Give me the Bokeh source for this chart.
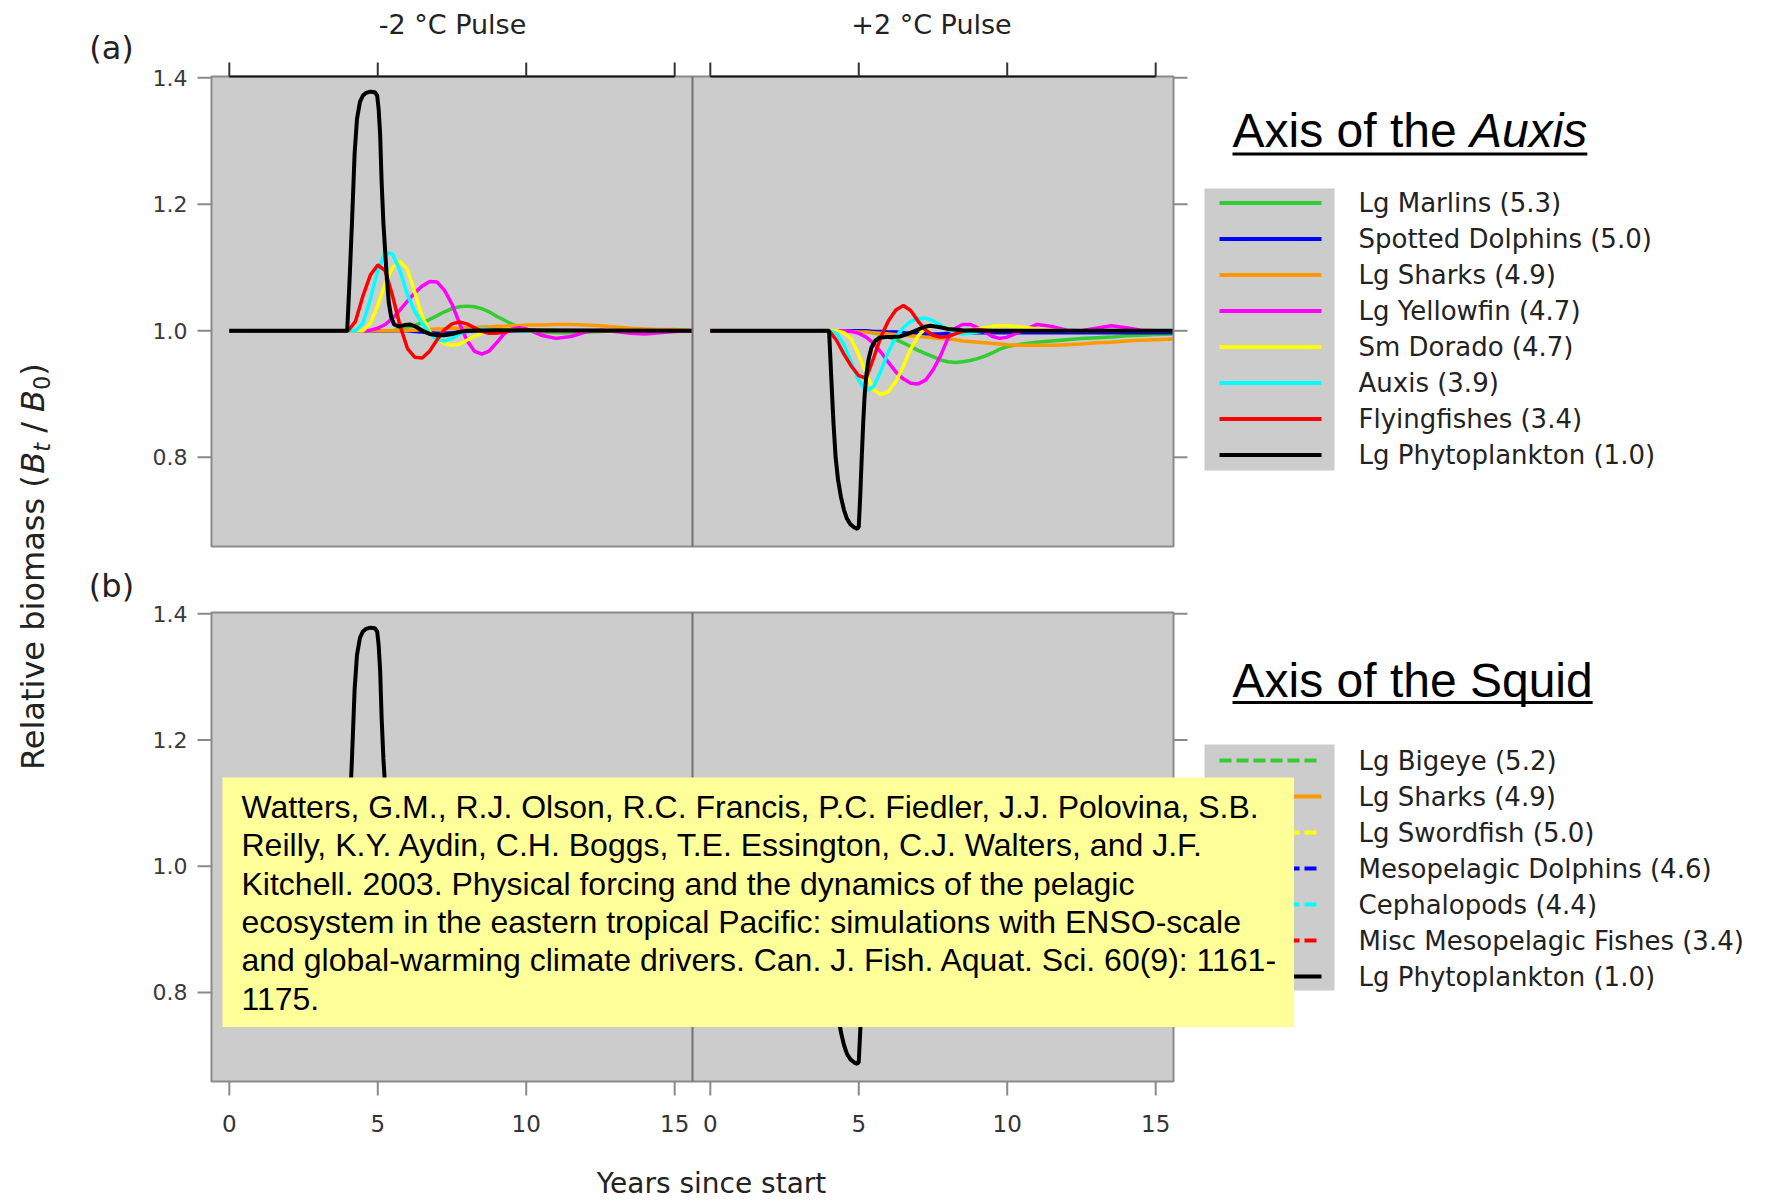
from math import pi
from bokeh.plotting import figure
from bokeh.models import Range1d
from bokeh.core.properties import value
from bokeh.embed import file_html
from bokeh.resources import INLINE

# ---------------- data ----------------
x_ticks = [0, 5, 10, 15]
x_tick_labels = ["0", "5", "10", "15"]
y_ticks = [0.8, 1.0, 1.2, 1.4]
y_tick_labels = ["0.8", "1.0", "1.2", "1.4"]
pulse_titles = ["-2 °C Pulse", "+2 °C Pulse"]
panel_tags = ["(a)", "(b)"]

auxis_species = ["Lg Marlins (5.3)", "Spotted Dolphins (5.0)", "Lg Sharks (4.9)",
                 "Lg Yellowfin (4.7)", "Sm Dorado (4.7)", "Auxis (3.9)",
                 "Flyingfishes (3.4)", "Lg Phytoplankton (1.0)"]
auxis_colors = ["#33cc33", "#0000ff", "#ff9900", "#ff00ff", "#ffff00", "#00ffff", "#ff0000", "#000000"]

squid_species = ["Lg Bigeye (5.2)", "Lg Sharks (4.9)", "Lg Swordfish (5.0)",
                 "Mesopelagic Dolphins (4.6)", "Cephalopods (4.4)",
                 "Misc Mesopelagic Fishes (3.4)", "Lg Phytoplankton (1.0)"]
squid_colors = ["#33cc33", "#ff9900", "#ffff00", "#0000ff", "#00ffff", "#ff0000", "#000000"]
squid_dash = ["12 5", "solid", "12 5", "12 5", "12 5", "12 5", "solid"]

# years (shared grid of the consumer series)
t_osc = [0, 3.75, 4.0, 4.25, 4.5, 4.75, 5.0, 5.25, 5.5, 5.75, 6.0, 6.25, 6.5, 6.75, 7.0,
         7.25, 7.5, 7.75, 8.0, 8.25, 8.5, 8.75, 9.0, 9.25, 9.5, 9.75, 10.0, 10.5, 11.0,
         11.5, 12.0, 12.5, 13.0, 13.5, 14.0, 14.5, 15.0, 15.6]

# -2 C pulse, axis of the Auxis
marlins_cold = [1.0, 1.0, 1.0, 1.0, 1.0, 1.0, 1.0, 1.0, 1.0, 1.002, 1.005, 1.009, 1.013, 1.018,
                1.024, 1.030, 1.035, 1.038, 1.039, 1.038, 1.035, 1.030, 1.023, 1.017, 1.011,
                1.006, 1.002, 0.998, 0.997, 0.997, 0.998, 0.999, 1.0, 1.0, 1.0, 1.0, 1.0, 1.0]
dolphins_cold = [1.0, 1.0, 1.0, 1.0, 1.0, 1.0, 1.0, 1.0, 1.0, 1.0, 1.0, 0.999, 0.998, 0.997,
                 0.996, 0.996, 0.997, 0.998, 0.999, 1.0, 1.0, 1.0, 1.0, 1.0, 1.0, 1.0, 1.0,
                 1.0, 1.0, 1.0, 1.0, 1.0, 1.0, 1.0, 1.0, 1.0, 1.0, 1.0]
sharks_cold = [1.0, 1.0, 1.0, 1.0, 1.0, 1.0, 1.0, 1.0, 1.0, 1.0, 1.001, 1.001, 1.002, 1.002,
               1.003, 1.003, 1.004, 1.004, 1.005, 1.005, 1.006, 1.006, 1.007, 1.007, 1.008,
               1.008, 1.009, 1.009, 1.010, 1.010, 1.009, 1.008, 1.006, 1.004, 1.003, 1.002,
               1.002, 1.001]
yellowfin_cold = [1.0, 1.0, 1.0, 1.0, 1.0, 1.001, 1.004, 1.010, 1.020, 1.033, 1.047, 1.060,
                  1.071, 1.078, 1.077, 1.064, 1.042, 1.012, 0.985, 0.968, 0.963, 0.968, 0.981,
                  0.995, 1.003, 1.005, 1.003, 0.993, 0.988, 0.991, 0.998, 1.001, 0.999, 0.996,
                  0.995, 0.997, 0.999, 1.0]
dorado_cold = [1.0, 1.0, 1.0, 1.0, 1.0, 1.012, 1.040, 1.075, 1.100, 1.110, 1.097, 1.060, 1.022,
               0.998, 0.986, 0.980, 0.977, 0.979, 0.985, 0.991, 0.996, 0.999, 1.001, 1.002,
               1.002, 1.001, 1.0, 1.0, 1.0, 1.0, 1.0, 1.0, 1.0, 1.0, 1.0, 1.0, 1.0, 1.0]
auxis_cold = [1.0, 1.0, 1.0, 1.0, 1.012, 1.050, 1.095, 1.124, 1.121, 1.095, 1.057, 1.030, 1.012,
              0.996, 0.986, 0.984, 0.988, 0.995, 1.0, 1.002, 1.003, 1.002, 1.001, 1.0, 1.0,
              1.0, 1.0, 1.0, 1.0, 1.0, 1.0, 1.0, 1.0, 1.0, 1.0, 1.0, 1.0, 1.0]
flying_cold = [1.0, 1.0, 1.0, 1.015, 1.055, 1.088, 1.104, 1.095, 1.055, 1.008, 0.972, 0.958,
               0.957, 0.968, 0.986, 1.002, 1.011, 1.014, 1.011, 1.005, 0.999, 0.996, 0.996,
               0.998, 1.0, 1.001, 1.001, 1.0, 1.0, 1.0, 1.0, 1.0, 1.0, 1.0, 1.0, 1.0, 1.0, 1.0]
phyto_cold_t = [0, 3.97, 4.05, 4.13, 4.22, 4.3, 4.4, 4.5, 4.6, 4.75, 4.9, 4.98, 5.03, 5.08,
                5.13, 5.19, 5.25, 5.31, 5.37, 5.45, 5.55, 5.7, 5.9, 6.1, 6.3, 6.5, 6.75, 7.0,
                7.25, 7.5, 7.75, 8.0, 9.0, 15.6]
phyto_cold = [1.0, 1.0, 1.08, 1.17, 1.28, 1.335, 1.362, 1.372, 1.376, 1.378, 1.377, 1.372,
              1.35, 1.31, 1.235, 1.17, 1.125, 1.08, 1.045, 1.022, 1.01, 1.007, 1.009, 1.010,
              1.006, 1.0, 0.995, 0.993, 0.993, 0.995, 0.998, 1.0, 1.001, 1.0]

# +2 C pulse, axis of the Auxis
marlins_warm = [1.0, 1.0, 1.0, 1.0, 1.0, 1.0, 1.0, 0.999, 0.997, 0.994, 0.990, 0.986, 0.981,
                0.975, 0.969, 0.964, 0.959, 0.954, 0.951, 0.950, 0.951, 0.953, 0.956, 0.960,
                0.965, 0.971, 0.975, 0.979, 0.982, 0.984, 0.986, 0.988, 0.989, 0.990, 0.992,
                0.993, 0.994, 0.995]
dolphins_warm = [1.0, 1.0, 1.0, 1.0, 1.0, 1.0, 1.0, 1.0, 0.999, 0.999, 0.998, 0.998, 0.997,
                 0.996, 0.996, 0.995, 0.995, 0.995, 0.996, 0.996, 0.997, 0.997, 0.997, 0.997,
                 0.997, 0.997, 0.997, 0.997, 0.997, 0.997, 0.997, 0.997, 0.997, 0.997, 0.997,
                 0.997, 0.997, 0.997]
sharks_warm = [1.0, 1.0, 1.0, 1.0, 0.999, 0.999, 0.998, 0.998, 0.997, 0.996, 0.995, 0.994,
               0.993, 0.992, 0.991, 0.990, 0.989, 0.988, 0.987, 0.986, 0.984, 0.983, 0.982,
               0.981, 0.980, 0.979, 0.978, 0.977, 0.977, 0.977, 0.978, 0.979, 0.981, 0.982,
               0.984, 0.985, 0.986, 0.987]
yellowfin_warm = [1.0, 1.0, 1.0, 1.0, 1.0, 0.999, 0.996, 0.990, 0.980, 0.966, 0.950, 0.935,
                  0.924, 0.917, 0.916, 0.922, 0.938, 0.960, 0.988, 1.004, 1.010, 1.010, 1.005,
                  0.998, 0.991, 0.988, 0.990, 1.0, 1.010, 1.007, 1.001, 1.0, 1.004, 1.008,
                  1.005, 1.001, 1.0, 1.0]
dorado_warm = [1.0, 1.0, 1.0, 1.0, 0.997, 0.987, 0.962, 0.932, 0.907, 0.899, 0.904, 0.920,
               0.944, 0.971, 0.992, 1.004, 1.008, 1.007, 1.004, 1.001, 1.0, 1.001, 1.003,
               1.005, 1.007, 1.008, 1.008, 1.006, 1.003, 1.001, 1.0, 1.0, 1.0, 1.0, 1.0, 1.0,
               1.0, 1.0]
auxis_warm = [1.0, 1.0, 1.0, 0.996, 0.978, 0.950, 0.922, 0.905, 0.912, 0.937, 0.967, 0.990,
              1.005, 1.015, 1.019, 1.020, 1.016, 1.009, 1.002, 0.997, 0.995, 0.996, 0.998,
              1.0, 1.0, 1.0, 1.0, 1.0, 1.0, 1.0, 1.0, 1.0, 1.0, 1.0, 1.0, 1.0, 1.0, 1.0]
flying_warm = [1.0, 1.0, 1.0, 0.985, 0.963, 0.944, 0.929, 0.925, 0.957, 0.991, 1.016, 1.033,
               1.040, 1.032, 1.015, 1.001, 0.993, 0.990, 0.991, 0.995, 0.999, 1.001, 1.002,
               1.001, 1.0, 1.0, 1.0, 1.0, 1.0, 1.0, 1.0, 1.0, 1.0, 1.0, 1.0, 1.0, 1.0, 1.0]
phyto_warm_t = [0, 4.0, 4.05, 4.1, 4.15, 4.22, 4.3, 4.4, 4.5, 4.6, 4.72, 4.85, 4.95, 5.0, 5.05,
                5.1, 5.15, 5.2, 5.26, 5.33, 5.43, 5.55, 5.7, 5.9, 6.1, 6.4, 6.7, 7.0, 7.2, 7.4,
                7.7, 8.0, 8.5, 9.0, 15.6]
phyto_warm = [1.0, 1.0, 0.95, 0.9, 0.853, 0.80, 0.765, 0.737, 0.717, 0.703, 0.694, 0.689,
              0.687, 0.69, 0.74, 0.80, 0.855, 0.90, 0.932, 0.955, 0.974, 0.984, 0.989, 0.99,
              0.99, 0.991, 0.996, 1.002, 1.006, 1.008, 1.006, 1.003, 1.001, 1.0, 1.0]

# axis of the squid (mostly covered by the citation box)
t_b = [0, 4.0, 4.5, 5.0, 5.5, 6.0, 6.5, 7.0, 7.5, 8.0, 9.0, 10.0, 11.0, 12.0, 13.0, 14.0, 15.0, 15.6]
bigeye_cold = [1.0, 1.0, 1.0, 1.0, 1.002, 1.008, 1.016, 1.025, 1.032, 1.035, 1.028, 1.012, 1.0,
               0.996, 0.997, 0.999, 1.0, 1.0]
swordfish_cold = [1.0, 1.0, 1.0, 1.005, 1.02, 1.04, 1.05, 1.045, 1.025, 1.005, 0.985, 0.995,
                  1.003, 1.0, 0.999, 1.0, 1.0, 1.0]
mesodolph_cold = [1.0, 1.0, 1.0, 1.0, 1.003, 1.01, 1.02, 1.03, 1.035, 1.03, 1.01, 0.995, 0.995,
                  1.0, 1.002, 1.0, 1.0, 1.0]
cephalo_cold = [1.0, 1.0, 1.02, 1.07, 1.09, 1.06, 1.01, 0.98, 0.975, 0.99, 1.005, 1.0, 0.998,
                1.0, 1.0, 1.0, 1.0, 1.0]
mesofish_cold = [1.0, 1.0, 1.04, 1.09, 1.06, 1.0, 0.96, 0.97, 1.0, 1.012, 0.996, 1.0, 1.0, 1.0,
                 1.0, 1.0, 1.0, 1.0]
bigeye_warm = [1.0, 1.0, 1.0, 1.0, 0.998, 0.992, 0.984, 0.975, 0.968, 0.965, 0.97, 0.982, 0.99,
               0.994, 0.996, 0.997, 0.998, 0.998]
swordfish_warm = [1.0, 1.0, 1.0, 0.995, 0.98, 0.96, 0.95, 0.955, 0.975, 0.995, 1.012, 1.003,
                  0.998, 1.0, 1.0, 1.0, 1.0, 1.0]
mesodolph_warm = [1.0, 1.0, 1.0, 1.0, 0.997, 0.99, 0.98, 0.972, 0.968, 0.972, 0.99, 1.004, 1.004,
                  1.0, 0.999, 1.0, 1.0, 1.0]
cephalo_warm = [1.0, 1.0, 0.98, 0.93, 0.915, 0.945, 0.99, 1.015, 1.02, 1.008, 0.996, 1.0, 1.0,
                1.0, 1.0, 1.0, 1.0, 1.0]
mesofish_warm = [1.0, 1.0, 0.96, 0.915, 0.95, 1.0, 1.035, 1.025, 1.0, 0.99, 1.003, 1.0, 1.0, 1.0,
                 1.0, 1.0, 1.0, 1.0]

citation_lines = [
    "Watters, G.M., R.J. Olson, R.C. Francis, P.C. Fiedler, J.J. Polovina, S.B.",
    "Reilly, K.Y. Aydin, C.H. Boggs, T.E. Essington, C.J. Walters, and J.F.",
    "Kitchell. 2003. Physical forcing and the dynamics of the pelagic",
    "ecosystem in the eastern tropical Pacific: simulations with ENSO-scale",
    "and global-warming climate drivers. Can. J. Fish. Aquat. Sci. 60(9): 1161-",
    "1175.",
]

auxis_series = [
    [(t_osc, marlins_cold), (t_osc, dolphins_cold), (t_osc, sharks_cold), (t_osc, yellowfin_cold),
     (t_osc, dorado_cold), (t_osc, auxis_cold), (t_osc, flying_cold), (phyto_cold_t, phyto_cold)],
    [(t_osc, marlins_warm), (t_osc, dolphins_warm), (t_osc, sharks_warm), (t_osc, yellowfin_warm),
     (t_osc, dorado_warm), (t_osc, auxis_warm), (t_osc, flying_warm), (phyto_warm_t, phyto_warm)],
]
squid_series = [
    [(t_b, bigeye_cold), (t_osc, sharks_cold), (t_b, swordfish_cold), (t_b, mesodolph_cold),
     (t_b, cephalo_cold), (t_b, mesofish_cold), (phyto_cold_t, phyto_cold)],
    [(t_b, bigeye_warm), (t_osc, sharks_warm), (t_b, swordfish_warm), (t_b, mesodolph_warm),
     (t_b, cephalo_warm), (t_b, mesofish_warm), (phyto_warm_t, phyto_warm)],
]

# ---------------- layout (pixels, measured from the top) ----------------
W, H = 1776, 1200
COLS = [(211, 692), (692, 1173)]
ROWS = [(76, 546), (612, 1081)]
XR = (-0.6, 15.6)
YR = (0.659, 1.402)
RASTER_FONT = "DejaVu Sans"
CRISP_FONT = "Liberation Sans"
TXT = "#222222"


def Y(v):
    return H - v


p = figure(width=W, height=H, x_range=Range1d(0, W), y_range=Range1d(0, H),
           x_axis_location=None, y_axis_location=None, toolbar_location=None,
           output_backend="svg", min_border=0)
p.grid.grid_line_color = None
p.outline_line_color = None
p.background_fill_color = "white"
p.border_fill_color = "white"


def panel(ci, ri):
    return p.subplot(x_source=Range1d(*XR), y_source=Range1d(*YR),
                     x_target=Range1d(COLS[ci][0], COLS[ci][1]),
                     y_target=Range1d(Y(ROWS[ri][1]), Y(ROWS[ri][0])))


def pix_x_data_y(ri):
    return p.subplot(x_source=Range1d(0, W), y_source=Range1d(*YR),
                     x_target=Range1d(0, W),
                     y_target=Range1d(Y(ROWS[ri][1]), Y(ROWS[ri][0])))


def data_x_pix_y(ci):
    return p.subplot(x_source=Range1d(*XR), y_source=Range1d(0, H),
                     x_target=Range1d(COLS[ci][0], COLS[ci][1]),
                     y_target=Range1d(0, H))


def label(x, y, txt, font, size, color=TXT, align="left", style="normal", angle=0.0):
    p.text(x=x, y=y, text=txt, angle=angle, text_font=value(font),
           text_font_size=value(size), text_font_style=style, text_color=color,
           text_align=align, text_baseline="middle")


# panel backgrounds
p.quad(left=[COLS[0][0]] * 2, right=[COLS[1][1]] * 2,
       bottom=[Y(ROWS[0][1]), Y(ROWS[1][1])], top=[Y(ROWS[0][0]), Y(ROWS[1][0])],
       fill_color="#cccccc", line_color=None)

# data lines
for ri, (groups, colors) in enumerate([(auxis_series, auxis_colors), (squid_series, squid_colors)]):
    for ci in range(2):
        sp = panel(ci, ri)
        for k, (tt, yy) in enumerate(groups[ci]):
            dash = "solid" if ri == 0 else squid_dash[k]
            lw = 4 if colors[k] == "#000000" else 3.5
            sp.line(tt, yy, line_color=colors[k], line_width=lw, line_dash=dash)

# panel borders and divider
p.quad(left=[COLS[0][0]] * 2, right=[COLS[1][1]] * 2,
       bottom=[Y(ROWS[0][1]), Y(ROWS[1][1])], top=[Y(ROWS[0][0]), Y(ROWS[1][0])],
       fill_color=None, line_color="#8a8a8a", line_width=2)
p.segment(x0=[COLS[0][1]] * 2, x1=[COLS[0][1]] * 2,
          y0=[Y(ROWS[0][0]), Y(ROWS[1][0])], y1=[Y(ROWS[0][1]), Y(ROWS[1][1])],
          line_color="#707070", line_width=2)

# y ticks (left with labels, right without)
for ri in range(2):
    s = pix_x_data_y(ri)
    s.segment(x0=[COLS[0][0] - 14] * 4, x1=[COLS[0][0]] * 4, y0=y_ticks, y1=y_ticks,
              line_color="#8a8a8a", line_width=2)
    s.segment(x0=[COLS[1][1]] * 4, x1=[COLS[1][1] + 14] * 4, y0=y_ticks, y1=y_ticks,
              line_color="#8a8a8a", line_width=2)
    s.text(x=[COLS[0][0] - 24] * 4, y=y_ticks, text=y_tick_labels,
           text_font=value(RASTER_FONT), text_font_size=value("22px"), text_color="#3a3a3a",
           text_align="right", text_baseline="middle")

# top axis (row a) and bottom axis (row b)
for ci in range(2):
    s = data_x_pix_y(ci)
    s.segment(x0=[x_ticks[0]], x1=[x_ticks[-1]], y0=[Y(ROWS[0][0])], y1=[Y(ROWS[0][0])],
              line_color="#111111", line_width=2)
    s.segment(x0=x_ticks, x1=x_ticks, y0=[Y(ROWS[0][0])] * 4, y1=[Y(ROWS[0][0] - 14)] * 4,
              line_color="#333333", line_width=2)
    s.segment(x0=x_ticks, x1=x_ticks, y0=[Y(ROWS[1][1])] * 4, y1=[Y(ROWS[1][1] + 14)] * 4,
              line_color="#8a8a8a", line_width=2)
    s.text(x=x_ticks, y=[Y(1123)] * 4, text=x_tick_labels,
           text_font=value(RASTER_FONT), text_font_size=value("23px"), text_color="#333333",
           text_align="center", text_baseline="middle")

# strip titles and panel tags
label([452, 931], [Y(24)] * 2, pulse_titles, RASTER_FONT, "27px", align="center")
label([111, 111], [Y(47), Y(585)], panel_tags, RASTER_FONT, "32px", align="center")

# x axis label
label([711], [Y(1183)], ["Years since start"], RASTER_FONT, "28px", align="center")

# y axis label, composed: Relative biomass (B_t / B_0)
FS = 32
yl_base = Y(769.5)
bx, sx = 32, 41
w_main = 9.258 * FS
w_B = 0.686 * FS
w_t = 0.392 * 0.7 * FS
w_sp = 0.318 * FS
w_sl = 0.337 * FS
w_0 = 0.636 * 0.7 * FS
pieces = [
    ("Relative biomass (", "normal", FS, bx, 0.0),
    ("B", "italic", FS, bx, w_main),
    ("t", "italic", 0.7 * FS, sx, w_main + w_B),
    ("/", "normal", FS, bx, w_main + w_B + w_t + w_sp),
    ("B", "italic", FS, bx, w_main + w_B + w_t + 2 * w_sp + w_sl),
    ("0", "normal", 0.7 * FS, sx, w_main + 2 * w_B + w_t + 2 * w_sp + w_sl),
    (")", "normal", FS, bx, w_main + 2 * w_B + w_t + 2 * w_sp + w_sl + w_0),
]
for txt, style, fs, xx, off in pieces:
    label([xx], [yl_base + off], [txt], RASTER_FONT, f"{fs:.1f}px", style=style, angle=pi / 2)

# group titles (underlined)
TF = 48
label([1232], [Y(130)], ["Axis of the"], CRISP_FONT, f"{TF}px", color="black")
label([1232 + 4.947 * TF], [Y(130)], ["Auxis"], CRISP_FONT, f"{TF}px", color="black",
      style="italic")
label([1232], [Y(680)], ["Axis of the Squid"], CRISP_FONT, f"{TF}px", color="black")
p.segment(x0=[1232, 1232], x1=[1232 + 7.392 * TF, 1232 + 7.504 * TF],
          y0=[Y(153.5), Y(702)], y1=[Y(153.5), Y(702)], line_color="black", line_width=3)


# legends
def draw_legend(names, colors, dashes, box_top, box_bottom, row0):
    p.quad(left=[1204], right=[1334], top=[Y(box_top)], bottom=[Y(box_bottom)],
           fill_color="#cccccc", line_color=None)
    rows = [row0 + 36 * i for i in range(len(names))]
    for i, r in enumerate(rows):
        p.line([1219, 1321], [Y(r), Y(r)], line_color=colors[i], line_width=4,
               line_dash=dashes[i])
    label([1358] * len(names), [Y(r) for r in rows], names, RASTER_FONT, "26px")


draw_legend(auxis_species, auxis_colors, ["solid"] * len(auxis_species), 188, 470, 202.5)
draw_legend(squid_species, squid_colors, squid_dash, 744, 990, 760)

# citation box
p.quad(left=[222], right=[1293.5], top=[Y(777)], bottom=[Y(1026.5)],
       fill_color="#ffff99", line_color=None)
label([241] * len(citation_lines), [Y(806.5 + 38.3 * i) for i in range(len(citation_lines))],
      citation_lines, CRISP_FONT, "32px", color="black")

open("out.html", "w").write(file_html(p, INLINE))
